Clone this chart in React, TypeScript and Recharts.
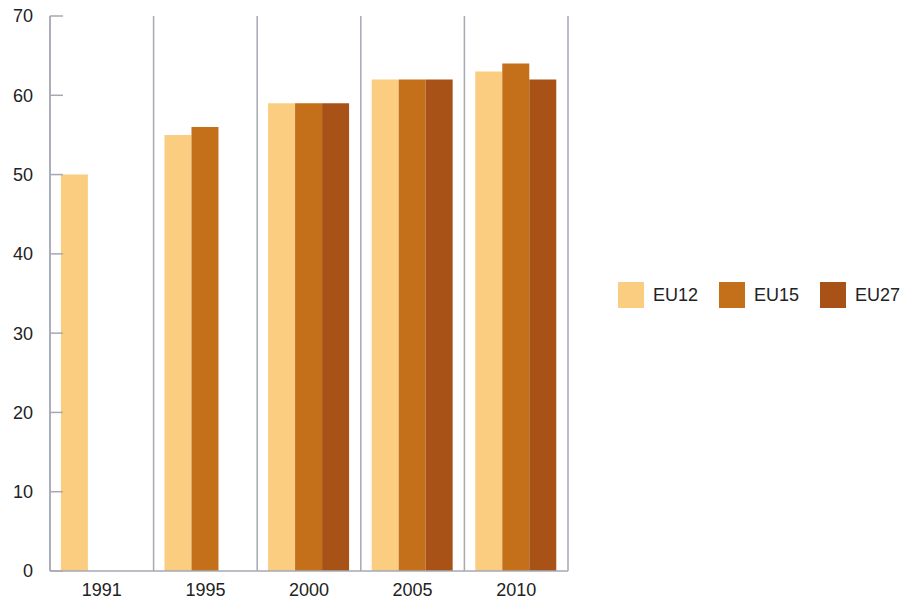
import React from 'react';
import { BarChart, Bar, XAxis, YAxis, CartesianGrid } from 'recharts';

const years = ['1991', '1995', '2000', '2005', '2010'];
const eu12 = [50, 55, 59, 62, 63];
const eu15 = [null, 56, 59, 62, 64];
const eu27 = [null, null, 59, 62, 62];
const yTicks = [0, 10, 20, 30, 40, 50, 60, 70];

const series = [
  { key: 'EU12', values: eu12, color: '#fbcd80' },
  { key: 'EU15', values: eu15, color: '#c4701a' },
  { key: 'EU27', values: eu27, color: '#a85218' },
];

const data = years.map((year, i) => ({
  year,
  EU12: eu12[i],
  EU15: eu15[i],
  EU27: eu27[i],
}));

const axisColor = '#a6a8b3';
const textColor = '#222';
const font = '"Liberation Sans", Arial, sans-serif';

// y ticks point inward from the axis line
const YTick = (props: any) => {
  const { x, y, payload } = props;
  return (
    <g>
      <line x1={x} x2={x + 13} y1={y} y2={y} stroke={axisColor} strokeWidth={1.5} />
      <text x={x - 17} y={y} dy="0.36em" textAnchor="end" fill={textColor} fontSize={18} fontFamily={font}>
        {payload.value}
      </text>
    </g>
  );
};

// lines between the year groups
const groupBounds = ({ offset }: any) =>
  Array.from({ length: years.length + 1 }, (_, i) => offset.left + (i * offset.width) / years.length);

const App = () => {
  return (
    <div style={{ position: 'absolute', left: 0, top: 0, width: 900, height: 599, background: '#fff' }}>
      <BarChart
        width={900}
        height={599}
        data={data}
        margin={{ top: 16, right: 332, bottom: 0, left: 0 }}
        barCategoryGap="10.5%"
        barGap={0}
      >
        <CartesianGrid
          horizontal={false}
          stroke={axisColor}
          strokeWidth={1.5}
          verticalCoordinatesGenerator={groupBounds}
        />
        <XAxis
          dataKey="year"
          height={28}
          tickLine={false}
          tickSize={0}
          tickMargin={12}
          axisLine={{ stroke: axisColor, strokeWidth: 1.5 }}
          tick={{ fill: textColor, fontSize: 18, fontFamily: font }}
        />
        <YAxis
          width={50}
          domain={[0, 70]}
          ticks={yTicks}
          interval={0}
          tickLine={false}
          tickSize={0}
          tickMargin={0}
          axisLine={{ stroke: axisColor, strokeWidth: 1.5 }}
          tick={<YTick />}
        />
        {series.map((s) => (
          <Bar key={s.key} dataKey={s.key} fill={s.color} isAnimationActive={false} />
        ))}
      </BarChart>
      <div
        style={{
          position: 'absolute',
          left: 618,
          top: 282,
          display: 'flex',
          fontFamily: font,
          fontSize: 18,
          color: textColor,
        }}
      >
        {series.map((s) => (
          <div key={s.key} style={{ display: 'flex', alignItems: 'center', width: 101 }}>
            <div style={{ width: 26, height: 26, background: s.color, marginRight: 9 }} />
            <span>{s.key}</span>
          </div>
        ))}
      </div>
    </div>
  );
};

export default App;
